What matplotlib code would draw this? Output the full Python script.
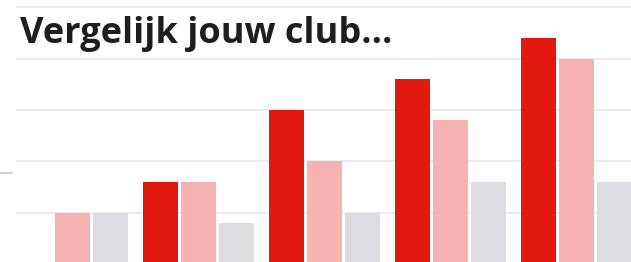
import matplotlib.pyplot as plt
import numpy as np

# values (grid step = 10)
groups = ["1", "2", "3", "4", "5"]
club = [0, 16, 30, 36, 44]
average = [10, 16, 20, 28, 40]
other = [10, 8, 10, 16, 16]
grid_levels = [10, 20, 30, 40, 50]

W, H = 631, 262
fig = plt.figure(figsize=(W / 100, H / 100), dpi=100)
ax = fig.add_axes([16 / W, 0, 1 - 16 / W, 1])

x = np.arange(len(groups))
off = 38 / 126
bw = 35 / 126
ax.bar(x - off, club, bw, color="#e2190f", zorder=3)
ax.bar(x, average, bw, color="#f7b3b2", zorder=3)
ax.bar(x + off, other, bw, color="#dcdce1", zorder=3)

for g in grid_levels:
    ax.axhline(g, color="#e6e6e6", lw=1.1, zorder=1)

ax.set_xlim((16 - 72.5) / 126, (631 - 72.5) / 126)
ax.set_ylim(0.4, 51.46)
ax.axis("off")

# small stray rule on the left edge
fig.add_artist(plt.Line2D([0, 12 / W], [1 - 173 / H, 1 - 173 / H], color="#c4c4c4", lw=1.1))

fig.text(20 / W, 1 - 43 / H, "Vergelijk jouw club...", fontsize=26, fontweight="bold",
         family="Open Sans", color="#1e1e1e", va="baseline", ha="left")

fig.savefig("out.png", dpi=100)
